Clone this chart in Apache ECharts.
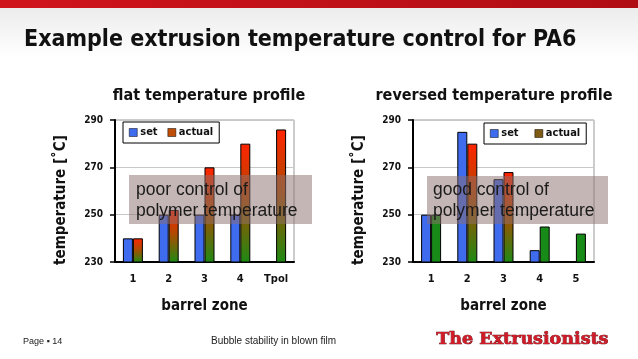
<!DOCTYPE html>
<html>
<head>
<meta charset="utf-8">
<script src="https://cdn.jsdelivr.net/npm/echarts@6/dist/echarts.min.js"></script>
<style>
html,body{margin:0;padding:0;background:#fff;}
#main{width:638px;height:359px;}
</style>
</head>
<body>
<div id="main"></div>
<script>
// ---- data ----
const zonesFlat = ['1', '2', '3', '4', 'Tpol'];
const zonesRev = ['1', '2', '3', '4', '5'];
const flatSet = [240, 250, 250, 250, null];
const flatActual = [240, 252, 270, 280, 286];
const revSet = [250, 285, 265, 235, null];
const revActual = [250, 280, 268, 245, 242];
const revActualGradient = [false, true, true, false, false];
const yTicks = [230, 250, 270, 290];

const FONT = '"DejaVu Sans Condensed", "DejaVu Sans", sans-serif';
const BLUE = '#3F6CEE';
const GREEN = '#178A17';
function grad() {
  return new echarts.graphic.LinearGradient(0, 0, 0, 1, [
    {offset: 0, color: '#FF2400'},
    {offset: 0.45, color: '#B04A00'},
    {offset: 1, color: '#1E8A14'}
  ]);
}

const chart = echarts.init(document.getElementById('main'), null, {renderer: 'canvas'});

function yAxis(gi) {
  return {
    type: 'value', gridIndex: gi, min: yTicks[0], max: yTicks[yTicks.length - 1], interval: 20,
    axisLine: {show: true, lineStyle: {color: '#000', width: 2}},
    axisTick: {show: true, length: 5, lineStyle: {color: '#000', width: 1.5}},
    splitLine: {show: true, lineStyle: {color: '#c8c8c8', width: 1}},
    axisLabel: {color: '#111', fontFamily: FONT, fontWeight: 'bold', fontSize: 10, margin: 12},
    name: 'temperature [˚C]', nameLocation: 'middle', nameRotate: 90, nameGap: 46,
    nameTextStyle: {color: '#111', fontFamily: FONT, fontWeight: 'bold', fontSize: 15, padding: [0, 18, 0, 0]}
  };
}
function xAxis(gi, cats) {
  return {
    type: 'category', gridIndex: gi, data: cats,
    axisLine: {show: true, lineStyle: {color: '#000', width: 2}},
    axisTick: {show: false},
    axisLabel: {color: '#111', fontFamily: FONT, fontWeight: 'bold', fontSize: 11, margin: 12},
    name: 'barrel zone', nameLocation: 'middle', nameGap: 37,
    nameTextStyle: {color: '#111', fontFamily: FONT, fontWeight: 'bold', fontSize: 15}
  };
}
function legend(left, top, gap, actualIcon) {
  return {
    left: left, top: top, orient: 'horizontal',
    padding: [5, 6, 5, 6], itemGap: gap, itemWidth: 8, itemHeight: 8,
    borderColor: '#000', borderWidth: 1, backgroundColor: '#fff', borderRadius: 0,
    icon: 'rect',
    textStyle: {color: '#111', fontFamily: FONT, fontWeight: 'bold', fontSize: 11, padding: [0, 0, 0, -2]},
    data: [
      {name: 'set', itemStyle: {color: BLUE, borderColor: '#000', borderWidth: 0.5}},
      {name: 'actual', itemStyle: {color: actualIcon, borderColor: '#000', borderWidth: 0.5}}
    ],
    selectedMode: false
  };
}

const option = {
  animation: false,
  backgroundColor: '#fff',
  title: [
    {text: 'Example extrusion temperature control for PA6', left: 19, top: 24,
     textStyle: {fontFamily: FONT, fontWeight: 'bold', fontSize: 23, color: '#111'}},
    {text: 'flat temperature profile', left: 204, top: 83, textAlign: 'center',
     textStyle: {fontFamily: FONT, fontWeight: 'bold', fontSize: 16, color: '#111'}},
    {text: 'reversed temperature profile', left: 489, top: 83, textAlign: 'center',
     textStyle: {fontFamily: FONT, fontWeight: 'bold', fontSize: 16, color: '#111'}}
  ],
  legend: [
    legend(123, 122, 10, '#C04E08'),
    legend(484, 123, 16, '#7E5A12')
  ],
  grid: [
    {left: 115, top: 120, width: 179, height: 142, show: true, borderColor: '#999', borderWidth: 1, backgroundColor: 'transparent'},
    {left: 413, top: 120, width: 181, height: 142, show: true, borderColor: '#999', borderWidth: 1, backgroundColor: 'transparent'}
  ],
  xAxis: [xAxis(0, zonesFlat), xAxis(1, zonesRev)],
  yAxis: [yAxis(0), yAxis(1)],
  series: [
    {name: 'set', type: 'bar', xAxisIndex: 0, yAxisIndex: 0, data: flatSet, barWidth: 10, barGap: '0%',
     itemStyle: {color: BLUE, borderColor: '#000', borderWidth: 1}},
    {name: 'actual', type: 'bar', xAxisIndex: 0, yAxisIndex: 0, data: flatActual, barWidth: 10, barGap: '0%',
     itemStyle: {color: grad(), borderColor: '#000', borderWidth: 1}},
    {name: 'set', type: 'bar', xAxisIndex: 1, yAxisIndex: 1, data: revSet, barWidth: 10, barGap: '0%',
     itemStyle: {color: BLUE, borderColor: '#000', borderWidth: 1}},
    {name: 'actual', type: 'bar', xAxisIndex: 1, yAxisIndex: 1, barWidth: 10, barGap: '0%',
     data: revActual.map((v, i) => ({value: v, itemStyle: {color: revActualGradient[i] ? grad() : GREEN}})),
     itemStyle: {borderColor: '#000', borderWidth: 1}}
  ],
  graphic: [
    {type: 'rect', left: 0, top: 0, shape: {width: 638, height: 8}, z: 10,
     style: {fill: new echarts.graphic.LinearGradient(0, 0, 1, 0, [{offset: 0, color: '#D0141C'}, {offset: 1, color: '#B00C14'}])}},
    {type: 'rect', left: 0, top: 8, shape: {width: 638, height: 50}, z: -1,
     style: {fill: new echarts.graphic.LinearGradient(0, 0, 0, 1, [{offset: 0, color: '#ececec'}, {offset: 1, color: '#ffffff'}])}},
    {type: 'rect', left: 129, top: 175, shape: {width: 183, height: 49}, z: 100,
     style: {fill: 'rgba(140,110,110,0.5)'}},
    {type: 'text', left: 136, top: 180, z: 101,
     style: {text: 'poor control of\npolymer temperature', fill: '#1a1a1a', font: '17.5px "Liberation Sans", Arial, sans-serif', lineHeight: 21}},
    {type: 'rect', left: 427, top: 176, shape: {width: 181, height: 48}, z: 100,
     style: {fill: 'rgba(140,110,110,0.5)'}},
    {type: 'text', left: 433, top: 180, z: 101,
     style: {text: 'good control of\npolymer temperature', fill: '#1a1a1a', font: '17.5px "Liberation Sans", Arial, sans-serif', lineHeight: 21}},
    {type: 'text', left: 23, top: 337, z: 10,
     style: {text: 'Page ▪ 14', fill: '#222', font: '9px "Liberation Sans", Arial, sans-serif'}},
    {type: 'text', left: 211, top: 336, z: 10,
     style: {text: 'Bubble stability in blown film', fill: '#222', font: '10px "Liberation Sans", Arial, sans-serif'}},
    {type: 'text', left: 436, top: 330, z: 10,
     style: {text: 'The Extrusionists', fill: '#D01C28', stroke: '#5a0008', lineWidth: 0.7,
       font: 'bold 17.5px "DejaVu Serif", "Liberation Serif", serif',
       shadowBlur: 2, shadowColor: 'rgba(0,0,0,0.6)', shadowOffsetX: 1, shadowOffsetY: 1}}
  ]
};
chart.setOption(option);
</script>
</body>
</html>
